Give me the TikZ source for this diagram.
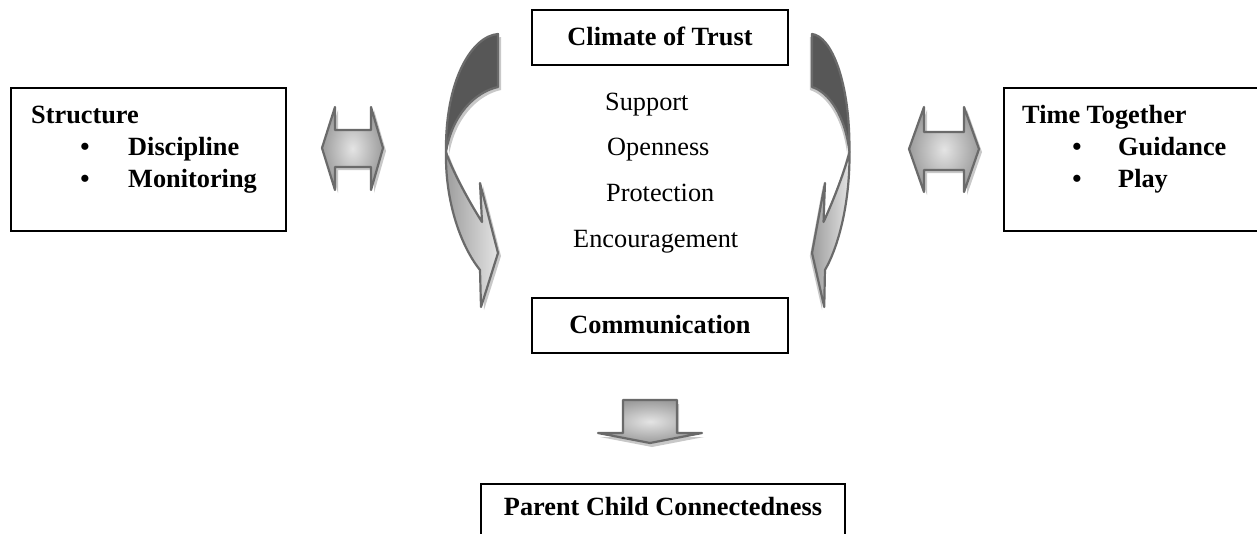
\documentclass[tikz,border=0pt]{standalone}
\usepackage{fontspec}
\setmainfont{Liberation Serif}
\definecolor{edge}{HTML}{6A6A6A}
\definecolor{darkpart}{HTML}{575757}
\definecolor{shadowc}{HTML}{C8C8C8}
\definecolor{gradA}{HTML}{9C9C9C}
\definecolor{gradB}{HTML}{E4E4E4}
\tikzset{
  box/.style={draw=black, line width=1.8pt, inner sep=0pt, fill=white},
  txt/.style={inner sep=0pt, anchor=base west, font=\fontsize{26.3}{31}\selectfont},
  btxt/.style={inner sep=0pt, anchor=base west, font=\fontsize{26.3}{31}\selectfont\bfseries},
  outl/.style={draw=edge, line width=2.2pt, line join=round},
  shad/.style={fill=shadowc},
}
\newcommand\ribbondark{(498,34) .. controls (472,36) and (445,80) .. (446,152) .. controls (452,115) and (475,92) .. (498,87) -- cycle}
\newcommand\ribbonlight{(446,152) .. controls (445,200) and (460,245) .. (480,270) -- (481,307) -- (498,253) -- (480,183) -- (482,222) .. controls (468,200) and (452,170) .. (446,152) -- cycle}
\newcommand\drawribbon{%
  \fill[shad, shift={(3,3)}] \ribbonlight;
  \fill[shad, shift={(3,3)}] \ribbondark;
  \shade[left color=gradA, right color=gradB] \ribbonlight;
  \fill[darkpart] \ribbondark;
  \draw[outl] \ribbonlight;
  \draw[outl] \ribbondark;
}
\newcommand\dblarrowL{(322,148) -- (335,107) -- (335,130) -- (371,130) -- (371,107) -- (383,148) -- (371,190) -- (371,167) -- (335,167) -- (335,190) -- cycle}
\newcommand\dblarrowR{(909,149) -- (924,107) -- (924,132) -- (964,132) -- (964,107) -- (979,149) -- (964,192) -- (964,170) -- (924,170) -- (924,192) -- cycle}
\newcommand\downarrowpath{(623,400) -- (677,400) -- (677,433) -- (702,433) -- (650,443) -- (598,433) -- (623,433) -- cycle}
\begin{document}
\begin{tikzpicture}[x=1pt,y=-1pt]
\useasboundingbox (0,0) rectangle (1257,533);
\clip (0,0) rectangle (1257,533);
\fill[white] (0,0) rectangle (1257,533);

% boxes
\node[box, anchor=north west, minimum width=275pt, minimum height=143pt] (structure) at (10,87) {};
\node[box, anchor=north west, minimum width=270pt, minimum height=143pt] (together) at (1003,87) {};
\node[box, minimum width=256pt, minimum height=55pt] (trust) at (660,37.5) {};
\node[box, minimum width=256pt, minimum height=55pt] (comm) at (660,325.5) {};
\node[box, anchor=north, minimum width=364pt, minimum height=70pt] (parent) at (663,483) {};

% box texts
\node[btxt] (structlbl) at (31,123) {Structure};
\node[btxt, anchor=base] (b1) at (85,155) {•};
\node[btxt] (disc) at (128,155) {Discipline};
\node[btxt, anchor=base] (b2) at (85,187) {•};
\node[btxt] (moni) at (128,187) {Monitoring};

\node[btxt] (timelbl) at (1022,123) {Time Together};
\node[btxt, anchor=base] (b3) at (1077,155) {•};
\node[btxt] (guid) at (1118,155) {Guidance};
\node[btxt, anchor=base] (b4) at (1077,187) {•};
\node[btxt] (play) at (1118,187) {Play};

\node[btxt, anchor=base] (trustlbl) at (660,45) {Climate of Trust};
\node[btxt, anchor=base] (commlbl) at (660,333) {Communication};
\node[btxt, anchor=base] (parentlbl) at (663,515) {Parent Child Connectedness};

\node[txt] (support) at (605,110) {Support};
\node[txt] (open) at (607,155.5) {Openness};
\node[txt] (prot) at (606,201) {Protection};
\node[txt] (enc) at (573,247) {Encouragement};

% curved arrows
\drawribbon
\begin{scope}[shift={(812,0)}, xscale=-0.72, shift={(-498,0)}]
  \drawribbon
\end{scope}

% double arrows
\fill[shad, shift={(3,3)}] \dblarrowL;
\shade[inner color=gradB, outer color=gradA] \dblarrowL;
\draw[outl] \dblarrowL;
\fill[shad, shift={(3,3)}] \dblarrowR;
\shade[inner color=gradB, outer color=gradA] \dblarrowR;
\draw[outl] \dblarrowR;

% down arrow
\fill[shad, shift={(2,4)}] \downarrowpath;
\shade[inner color=gradB, outer color=gradA] \downarrowpath;
\draw[outl] \downarrowpath;
\end{tikzpicture}
\end{document}
